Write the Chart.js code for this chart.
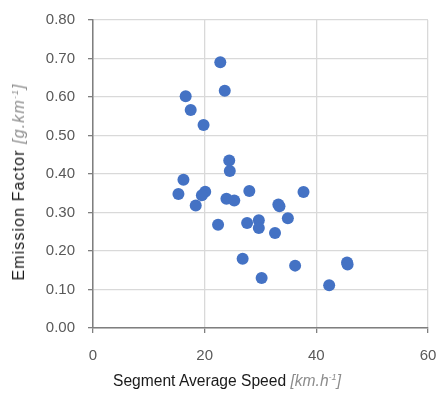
<!DOCTYPE html>
<html>
<head>
<meta charset="utf-8">
<script src="https://cdn.jsdelivr.net/npm/chart.js@4"></script>
<style>
  body { margin: 0; background: #fff; }
  #wrap { position: relative; width: 438px; height: 393px; font-family: "Liberation Sans", Arial, sans-serif; }
  #chart { position: absolute; left: 0; top: 0; }
  .ttl { position: absolute; font-size: 15.6px; color: #1a1a1a; white-space: nowrap; }
  .ttl i { color: #8c8c8c; }
  .ttl sup { font-size: 9px; line-height: 0; vertical-align: 6px; }
  #ytitle { left: 19px; top: 182px; font-size: 16px; letter-spacing: 1.1px; transform: translate(-50%, -50%) rotate(-90deg); }
  #xtitle { left: 227px; top: 381px; transform: translate(-50%, -50%); }
</style>
</head>
<body>
<div id="wrap">
  <canvas id="chart" width="438" height="393"></canvas>
  <div class="ttl" id="ytitle">Emission Factor <i>[g.km<sup>-1</sup>]</i></div>
  <div class="ttl" id="xtitle">Segment Average Speed <i>[km.h<sup>-1</sup>]</i></div>
</div>
<script>
// segment average speed (km/h) and emission factor (g/km)
const speed = [22.8, 23.6, 16.6, 17.5, 19.8, 24.4, 24.5, 16.2, 15.3, 20.1,
  19.5, 18.4, 22.4, 23.9, 25.3, 28.0, 27.6, 29.7, 29.7, 32.6,
  33.2, 33.4, 34.9, 37.7, 26.8, 30.2, 36.2, 42.3, 45.5, 45.6];
const emission = [0.690, 0.616, 0.602, 0.566, 0.527, 0.435, 0.408, 0.385, 0.348, 0.354,
  0.345, 0.318, 0.268, 0.336, 0.331, 0.356, 0.273, 0.280, 0.260, 0.247,
  0.321, 0.316, 0.285, 0.353, 0.180, 0.130, 0.162, 0.111, 0.170, 0.165];

const xTicks = [0, 20, 40, 60];
const yTicks = [0, 0.1, 0.2, 0.3, 0.4, 0.5, 0.6, 0.7, 0.8];

const points = speed.map((s, i) => ({ x: s, y: emission[i] }));
const tickFont = { family: '"Liberation Sans", Arial, sans-serif', size: 15 };

new Chart(document.getElementById('chart'), {
  type: 'scatter',
  data: {
    datasets: [{
      data: points,
      backgroundColor: '#4472C4',
      borderWidth: 0,
      pointRadius: 6,
      pointHoverRadius: 6
    }]
  },
  options: {
    responsive: false,
    animation: false,
    events: [],
    layout: { padding: { top: 20, right: 10, left: 0, bottom: 0 } },
    plugins: { legend: { display: false }, tooltip: { enabled: false } },
    scales: {
      x: {
        type: 'linear',
        min: xTicks[0],
        max: xTicks[xTicks.length - 1],
        afterBuildTicks: (s) => { s.ticks = xTicks.map(v => ({ value: v })); },
        afterFit: (s) => { s.height = 65; s.paddingLeft = 0; s.paddingRight = 0; },
        ticks: { color: '#595959', font: tickFont, padding: 14, maxRotation: 0 },
        grid: { color: '#d9d9d9', lineWidth: 1.3, tickColor: '#7f7f7f', tickLength: 5 },
        border: { color: '#7f7f7f', width: 1.5 }
      },
      y: {
        min: yTicks[0],
        max: yTicks[yTicks.length - 1],
        afterBuildTicks: (s) => { s.ticks = yTicks.map(v => ({ value: v })); },
        afterFit: (s) => { s.width = 93; s.paddingTop = 0; s.paddingBottom = 0; },
        ticks: { color: '#595959', font: tickFont, padding: 13, callback: v => v.toFixed(2) },
        grid: { color: '#d9d9d9', lineWidth: 1.3, tickColor: '#7f7f7f', tickLength: 5 },
        border: { color: '#7f7f7f', width: 1.5 }
      }
    }
  }
});
</script>
</body>
</html>
